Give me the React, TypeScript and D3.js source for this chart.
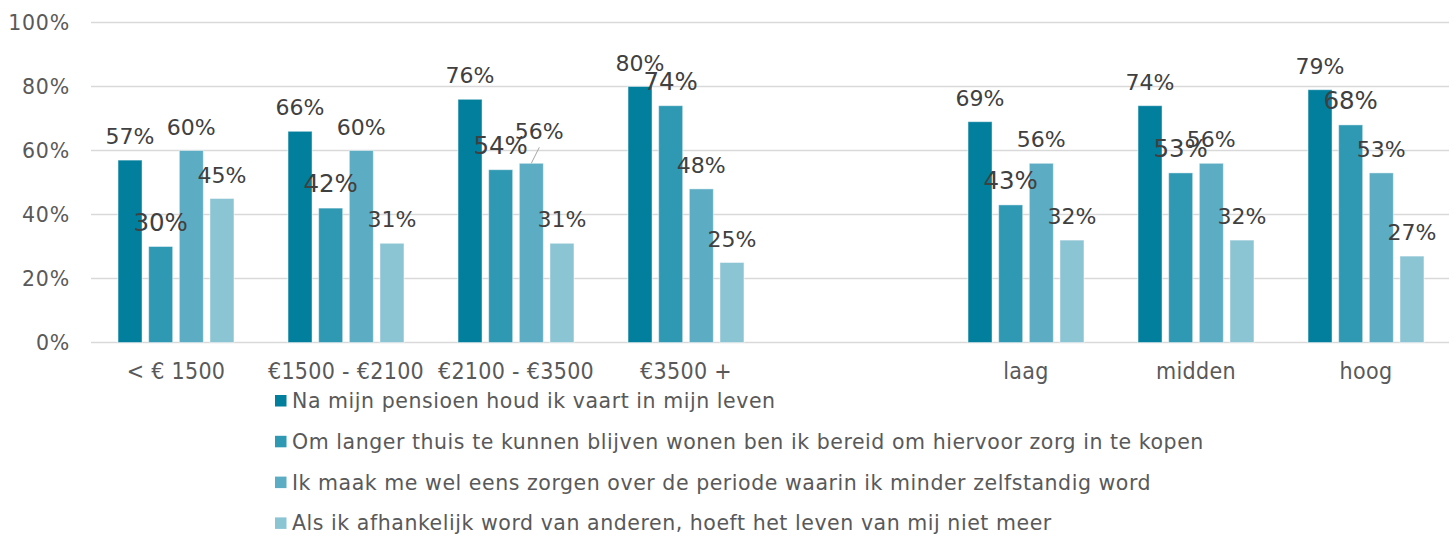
import { useEffect, useRef } from "react"
import * as d3 from "d3"

const categories = ["< € 1500", "€1500 - €2100", "€2100 - €3500", "€3500 +", "", "laag", "midden", "hoog"]

const seriesNames = [
  "Na mijn pensioen houd ik vaart in mijn leven",
  "Om langer thuis te kunnen blijven wonen ben ik bereid om hiervoor zorg in te kopen",
  "Ik maak me wel eens zorgen over de periode waarin ik minder zelfstandig word",
  "Als ik afhankelijk word van anderen, hoeft het leven van mij niet meer",
]

const vaart = [57, 66, 76, 80, null, 69, 74, 79]
const zorgInkopen = [30, 42, 54, 74, null, 43, 53, 68]
const zorgen = [60, 60, 56, 48, null, 56, 56, 53]
const afhankelijk = [45, 31, 31, 25, null, 32, 32, 27]

const yTicks = [0, 20, 40, 60, 80, 100]

const colors = ["#037f9e", "#2f98b3", "#5cadc3", "#8bc4d3"]

// data labels that were dragged away from the bar in the original: [series, category, dx, dy]
const movedLabels = [[2, 2, 8, -8]]

export default function App() {
  const svgRef = useRef(null)
  const width = 1456
  const height = 538

  useEffect(() => {
    const svg = d3.select(svgRef.current)
    svg.selectAll("*").remove()

    const series = [vaart, zorgInkopen, zorgen, afhankelijk]
    const font = "'DejaVu Sans', Verdana, sans-serif"

    const x = d3.scaleBand().domain(d3.range(categories.length)).range([91, 1451]).paddingInner(0.318).paddingOuter(0.159)
    const xs = d3.scaleBand().domain(d3.range(series.length)).range([0, x.bandwidth()]).paddingInner(0.217).paddingOuter(0)
    const y = d3.scaleLinear().domain([0, 100]).range([342.5, 22.5])

    // gridlines
    svg
      .append("g")
      .selectAll("line")
      .data(yTicks)
      .enter()
      .append("line")
      .attr("x1", 91)
      .attr("x2", 1449)
      .attr("y1", (d) => y(d))
      .attr("y2", (d) => y(d))
      .attr("stroke", "#d9d9d9")
      .attr("stroke-width", 1.5)

    svg
      .append("g")
      .selectAll("text")
      .data(yTicks)
      .enter()
      .append("text")
      .attr("x", 70)
      .attr("y", (d) => y(d))
      .attr("dy", "0.36em")
      .attr("text-anchor", "end")
      .attr("font-family", font)
      .attr("font-size", 20.5)
      .attr("letter-spacing", 0.8)
      .attr("fill", "#595959")
      .text((d) => d + "%")

    // x labels
    svg
      .append("g")
      .selectAll("text")
      .data(categories)
      .enter()
      .append("text")
      .attr("x", (d, i) => x(i) + x.bandwidth() / 2)
      .attr("y", 379)
      .attr("text-anchor", "middle")
      .attr("font-family", "'DejaVu Sans Condensed', 'DejaVu Sans', sans-serif")
      .attr("font-stretch", "condensed")
      .attr("font-size", 23)
      .attr("letter-spacing", 0.3)
      .attr("fill", "#595959")
      .text((d) => d)

    const bars = []
    series.forEach((vals, s) => {
      vals.forEach((v, c) => {
        if (v == null) return
        bars.push({ s, c, v })
      })
    })

    svg
      .append("g")
      .selectAll("rect")
      .data(bars)
      .enter()
      .append("rect")
      .attr("x", (d) => x(d.c) + xs(d.s))
      .attr("y", (d) => y(d.v))
      .attr("width", xs.bandwidth())
      .attr("height", (d) => y(0) - y(d.v))
      .attr("fill", (d) => colors[d.s])
      .attr("stroke", "#ffffff")
      .attr("stroke-opacity", 0.45)
      .attr("stroke-width", 1)

    const offsetOf = (d) => movedLabels.find((m) => m[0] === d.s && m[1] === d.c)

    // leader lines for moved labels
    svg
      .append("g")
      .selectAll("line")
      .data(bars.filter((d) => offsetOf(d)))
      .enter()
      .append("line")
      .attr("x1", (d) => x(d.c) + xs(d.s) + xs.bandwidth() / 2)
      .attr("y1", (d) => y(d.v))
      .attr("x2", (d) => x(d.c) + xs(d.s) + xs.bandwidth() / 2 + offsetOf(d)[2])
      .attr("y2", (d) => y(d.v) - 16)
      .attr("stroke", "#a6a6a6")
      .attr("stroke-width", 1)

    svg
      .append("g")
      .selectAll("text")
      .data(bars)
      .enter()
      .append("text")
      .attr("x", (d) => x(d.c) + xs(d.s) + xs.bandwidth() / 2 + (offsetOf(d) ? offsetOf(d)[2] : 0))
      .attr("y", (d) => y(d.v) - 16 + (offsetOf(d) ? offsetOf(d)[3] : 0))
      .attr("text-anchor", "middle")
      .attr("font-family", font)
      .attr("font-size", (d) => (d.s === 1 ? 24.5 : 22))
      .attr("fill", "#404040")
      .text((d) => d.v + "%")

    // legend
    const legend = svg
      .append("g")
      .selectAll("g")
      .data(seriesNames)
      .enter()
      .append("g")
      .attr("transform", (d, i) => `translate(275,${408 + i * 40.8})`)

    legend
      .append("rect")
      .attr("x", 0)
      .attr("y", -13)
      .attr("width", 11.5)
      .attr("height", 11.5)
      .attr("fill", (d, i) => colors[i])

    legend
      .append("text")
      .attr("x", 17)
      .attr("y", 0)
      .attr("font-family", font)
      .attr("font-size", 20.5)
      .attr("letter-spacing", 0.55)
      .attr("fill", "#595959")
      .text((d) => d)
  }, [])

  return (
    <svg
      ref={svgRef}
      width={width}
      height={height}
      style={{ position: "absolute", left: 0, top: 0, display: "block", background: "#ffffff" }}
    />
  )
}
